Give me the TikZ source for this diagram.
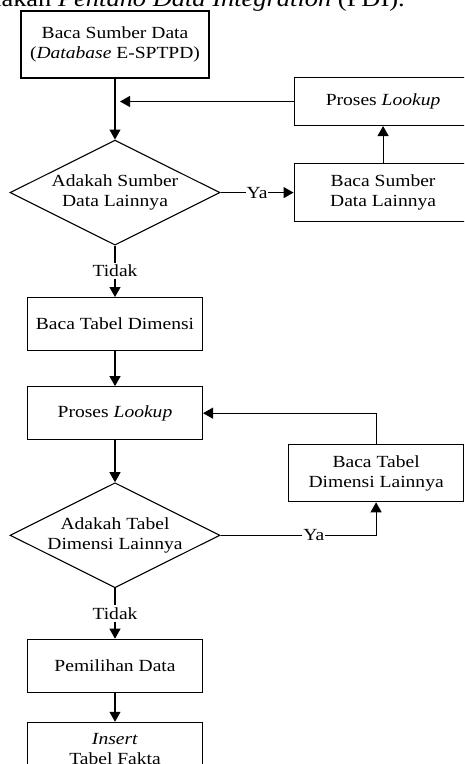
\documentclass[tikz,border=0pt]{standalone}
\usepackage{fontspec}
\setmainfont[FakeStretch=1.15]{Liberation Serif}
\usetikzlibrary{
arrows.meta,
positioning,
shapes.geometric
}

\begin{document}
\begin{tikzpicture}[x=1pt,y=1pt,
    font=\fontsize{17}{19.5}\selectfont,
    procbox/.style={draw,line width=1.1pt,align=center,inner sep=0pt,
      minimum width=175pt,minimum height=53pt},
    decbox/.style={diamond,draw,line width=1.1pt,aspect=2,align=center,
      inner sep=0pt,minimum width=210pt,minimum height=105pt},
    lbl/.style={inner sep=2pt},
    line/.style={line width=1.1pt},
    arr/.style={line,-{Triangle[width=11pt,length=10pt]}}]
    \useasboundingbox (0,0) rectangle (464,-764);
    \clip (0,0) rectangle (464,-764);

    \node[anchor=base east,inner sep=0pt,font=\fontsize{23}{27}\selectfont] (judul) at (405,-6)
      {menggunakan \textit{Pentaho Data Integration} (PDI).};

    \node[procbox,minimum width=188pt,minimum height=67pt] (baca) at (115,-44.5)
      {Baca Sumber Data\\(\textit{Database} E-SPTPD)};
    \node[decbox,below=61pt of baca] (cek1) {Adakah Sumber\\Data Lainnya};
    \node[procbox,minimum width=178pt,minimum height=58pt,right=73pt of cek1] (bacalain)
      {Baca Sumber\\Data Lainnya};
    \node[procbox,minimum width=178pt,minimum height=48pt,above=37pt of bacalain] (lookup1)
      {Proses \textit{Lookup}};
    \node[lbl,below=17pt of cek1] (tidak1) {Tidak};
    \node[procbox,below=18pt of tidak1] (dimensi) {Baca Tabel Dimensi};
    \node[procbox,below=35pt of dimensi] (lookup2) {Proses \textit{Lookup}};
    \node[decbox,below=42pt of lookup2] (cek2) {Adakah Tabel\\Dimensi Lainnya};
    \node[procbox,minimum height=57pt,below right=4pt and 85pt of lookup2] (dimlain)
      {Baca Tabel\\Dimensi Lainnya};
    \node[lbl,below=17pt of cek2] (tidak2) {Tidak};
    \node[procbox,below=17pt of tidak2] (pilih) {Pemilihan Data};
    \node[procbox,below=29pt of pilih] (insert) {\textit{Insert}\\Tabel Fakta};

    % loop sumber data
    \coordinate (gabung) at (lookup1.west -| baca.south);
    \draw[arr] (baca) -- (cek1);
    \draw[arr,shorten >=5pt] (lookup1) -- (gabung);
    \draw[arr] (cek1) -- node[lbl,inner sep=1pt,fill=white] (ya1) {Ya} (bacalain);
    \draw[arr] (bacalain) -- (lookup1);
    \draw[line] (cek1) -- (tidak1);
    \draw[arr] (tidak1) -- (dimensi);

    % loop tabel dimensi
    \draw[arr] (dimensi) -- (lookup2);
    \draw[arr] (lookup2) -- (cek2);
    \draw[arr] (cek2) -| node[lbl,inner sep=1pt,fill=white,pos=0.3] (ya2) {Ya} (dimlain);
    \draw[arr] (dimlain) |- (lookup2);
    \draw[line] (cek2) -- (tidak2);
    \draw[arr] (tidak2) -- (pilih);
    \draw[arr] (pilih) -- (insert);
\end{tikzpicture}
\end{document}
